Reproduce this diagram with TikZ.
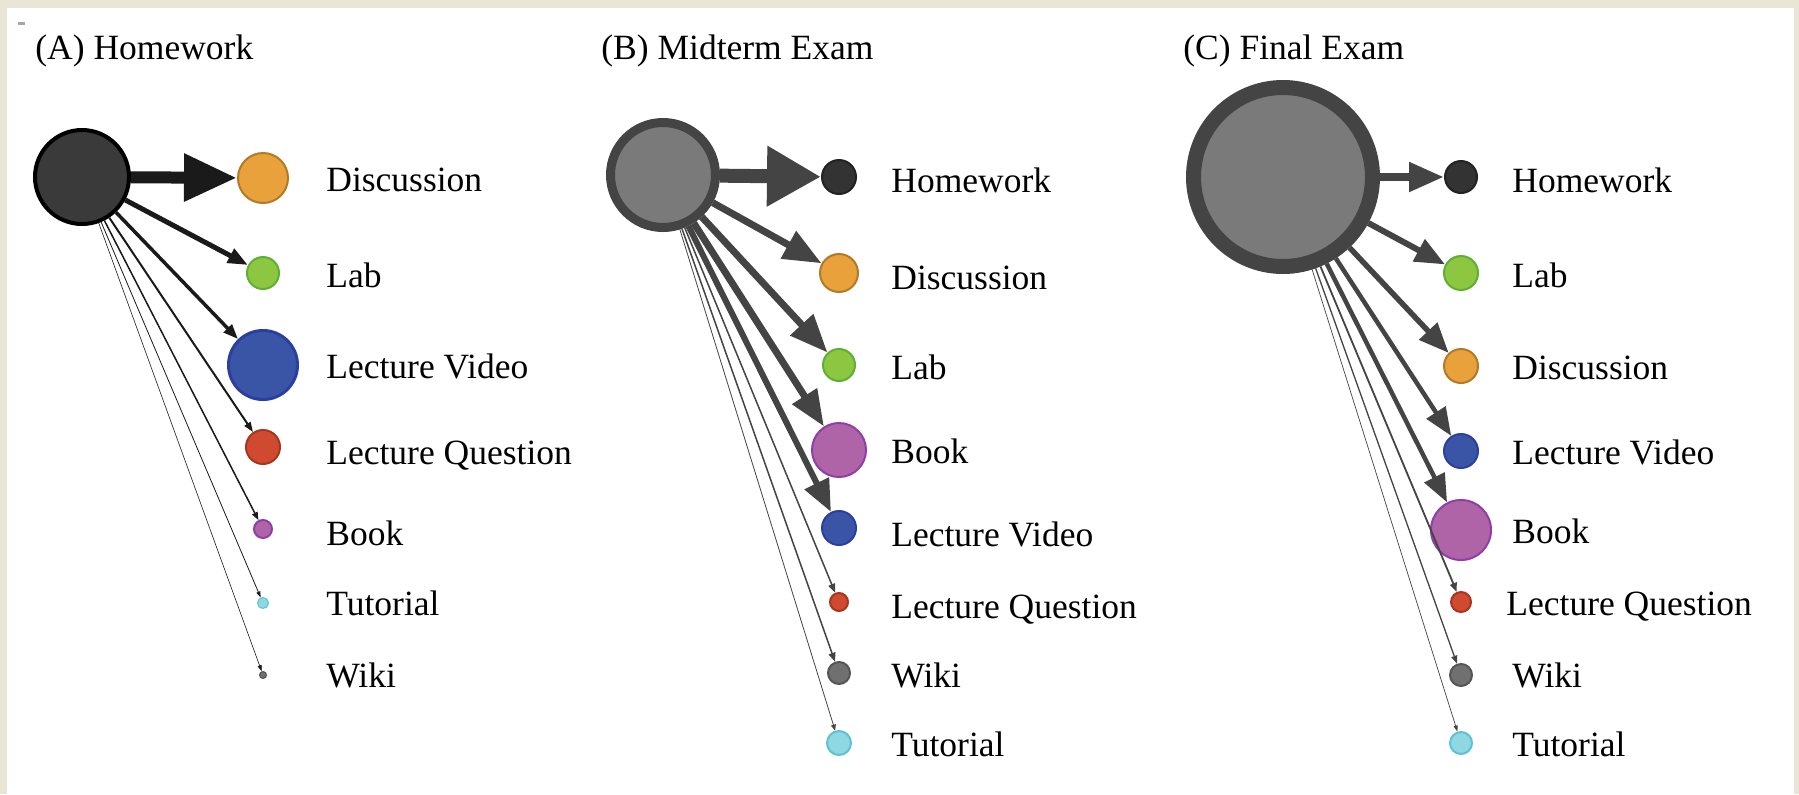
\documentclass[tikz,border=0pt]{standalone}
\usepackage{fontspec}
\setmainfont{Liberation Serif}
\usepackage{xcolor}
\usepackage{tikz}
\usetikzlibrary{arrows.meta}
\definecolor{pagebg}{HTML}{E9E6D6}
\definecolor{discfill}{HTML}{E9A23B}
\definecolor{discstroke}{HTML}{B07A26}
\definecolor{labfill}{HTML}{8DC641}
\definecolor{labstroke}{HTML}{5DB033}
\definecolor{videofill}{HTML}{3A55A6}
\definecolor{videostroke}{HTML}{2B3FA0}
\definecolor{questionfill}{HTML}{CF4A2E}
\definecolor{questionstroke}{HTML}{A8361E}
\definecolor{bookfill}{HTML}{B064A8}
\definecolor{bookstroke}{HTML}{8E3FA5}
\definecolor{tutorialfill}{HTML}{8ED8E4}
\definecolor{tutorialstroke}{HTML}{5EC2D2}
\definecolor{wikifill}{HTML}{707070}
\definecolor{wikistroke}{HTML}{555555}
\definecolor{homeworkfill}{HTML}{333333}
\definecolor{homeworkstroke}{HTML}{222222}
\definecolor{sourcedark}{HTML}{3A3A3A}
\definecolor{sourcegray}{HTML}{7A7A7A}
\definecolor{edgedark}{HTML}{1A1A1A}
\definecolor{edgegray}{HTML}{444444}

\begin{document}
\begin{tikzpicture}[
  x=0.5pt,
  y=-0.5pt,
  dot/.style={
    circle,
    inner sep=0pt,
    line width=1pt
  },
  disc/.style={dot, fill=discfill, draw=discstroke},
  lab/.style={dot, fill=labfill, draw=labstroke},
  video/.style={dot, fill=videofill, draw=videostroke},
  question/.style={dot, fill=questionfill, draw=questionstroke},
  book/.style={dot, fill=bookfill, draw=bookstroke},
  tutorial/.style={dot, fill=tutorialfill, draw=tutorialstroke},
  wiki/.style={dot, fill=wikifill, draw=wikistroke},
  homework/.style={dot, fill=homeworkfill, draw=homeworkstroke},
  sourceA/.style={dot, fill=sourcedark, draw=black},
  sourceBC/.style={dot, fill=sourcegray, draw=edgegray},
  tag/.style={
    anchor=west,
    inner sep=0pt,
    font=\fontsize{17.75}{20}\selectfont
  },
  panel/.style={
    anchor=west,
    inner sep=0pt,
    font=\fontsize{17.75}{20}\selectfont
  },
  link/.style n args={3}{
    draw=edgegray,
    line width=#1pt,
    -{Triangle[length=#2pt,width=#3pt]}
  },
  dark/.style={draw=edgedark}
]

% page and panel
\fill[pagebg] (0,0) rectangle (1799,794);
\fill[white] (7,8) rectangle (1794,794);
\fill[gray!70] (18,22) rectangle (25,25);

\node[panel] (titleA) at (35,51) {(A) Homework};
\node[panel] (titleB) at (601,51) {(B) Midterm Exam};
\node[panel] (titleC) at (1183,51) {(C) Final Exam};

% (A) Homework
\node[sourceA, minimum size=47pt, line width=2pt] (hw) at (82,177) {};
\node[disc, minimum size=25pt] (hwdisc) at (263,178) {};
\node[lab, minimum size=16pt] (hwlab) at (263,273) {};
\node[video, minimum size=34.5pt, line width=1.5pt] (hwvideo) at (263,365) {};
\node[question, minimum size=17pt] (hwquestion) at (263,447) {};
\node[book, minimum size=9pt] (hwbook) at (263,529) {};
\node[tutorial, minimum size=5.5pt, line width=0.5pt] (hwtutorial) at (263,603) {};
\node[wiki, minimum size=3.5pt, line width=0.5pt] (hwwiki) at (263,675) {};

\node[tag] (hwdisc-t) at (326,180) {Discussion};
\node[tag] (hwlab-t) at (326,275) {Lab};
\node[tag] (hwvideo-t) at (326,366) {Lecture Video};
\node[tag] (hwquestion-t) at (326,456) {Lecture Question};
\node[tag] (hwbook-t) at (326,533) {Book};
\node[tag] (hwtutorial-t) at (326,603) {Tutorial};
\node[tag] (hwwiki-t) at (326,675) {Wiki};

\draw[link={6}{26.5}{22.5}, dark] (hw) -- (hwdisc);
\draw[link={2.5}{10}{7.5}, dark] (hw) -- (hwlab);
\draw[link={1.75}{7.5}{5.5}, dark] (hw) -- (hwvideo);
\draw[link={1}{5}{3.5}, dark] (hw) -- (hwquestion);
\draw[link={0.75}{4}{3}, dark] (hw) -- (hwbook);
\draw[link={0.4}{3}{2}, dark] (hw) -- (hwtutorial);
\draw[link={0.3}{3}{2}, dark] (hw) -- (hwwiki);

% (B) Midterm Exam
\node[sourceBC, minimum size=52.5pt, line width=4.5pt] (mid) at (663,175) {};
\node[homework, minimum size=17pt] (midhw) at (839,177) {};
\node[disc, minimum size=19pt] (middisc) at (839,273) {};
\node[lab, minimum size=16pt] (midlab) at (839,365) {};
\node[book, minimum size=27pt] (midbook) at (839,450) {};
\node[video, minimum size=17pt] (midvideo) at (839,528) {};
\node[question, minimum size=9pt] (midquestion) at (839,602) {};
\node[wiki, minimum size=11pt] (midwiki) at (839,673) {};
\node[tutorial, minimum size=12pt] (midtutorial) at (839,743) {};

\node[tag] (midhw-t) at (891,180) {Homework};
\node[tag] (middisc-t) at (891,278) {Discussion};
\node[tag] (midlab-t) at (891,367) {Lab};
\node[tag] (midbook-t) at (891,451) {Book};
\node[tag] (midvideo-t) at (891,534) {Lecture Video};
\node[tag] (midquestion-t) at (891,610) {Lecture Question};
\node[tag] (midwiki-t) at (891,675) {Wiki};
\node[tag] (midtutorial-t) at (891,744) {Tutorial};

\draw[link={7}{27}{28.5}] (mid) -- (midhw);
\draw[link={3.5}{19}{15}] (mid) -- (middisc);
\draw[link={3.5}{19}{15}] (mid) -- (midlab);
\draw[link={3.5}{18}{14}] (mid) -- (midbook);
\draw[link={3}{16}{13}] (mid) -- (midvideo);
\draw[link={0.75}{4.5}{3.5}] (mid) -- (midquestion);
\draw[link={0.75}{4.5}{3.5}] (mid) -- (midwiki);
\draw[link={0.4}{3}{2.5}] (mid) -- (midtutorial);

% (C) Final Exam
\node[sourceBC, minimum size=89.5pt, line width=7.5pt] (fin) at (1283,177) {};
\node[homework, minimum size=16pt] (finhw) at (1461,177) {};
\node[lab, minimum size=17pt] (finlab) at (1461,273) {};
\node[disc, minimum size=17pt] (findisc) at (1461,366) {};
\node[video, minimum size=17pt] (finvideo) at (1461,451) {};
\node[book, minimum size=30pt] (finbook) at (1461,530) {};
\node[question, minimum size=10pt] (finquestion) at (1461,602) {};
\node[wiki, minimum size=11pt] (finwiki) at (1461,675) {};
\node[tutorial, minimum size=11pt] (fintutorial) at (1461,743) {};

\node[tag] (finhw-t) at (1512,180) {Homework};
\node[tag] (finlab-t) at (1512,275) {Lab};
\node[tag] (findisc-t) at (1512,368) {Discussion};
\node[tag] (finvideo-t) at (1512,452) {Lecture Video};
\node[tag] (finbook-t) at (1512,531) {Book};
\node[tag] (finquestion-t) at (1506,607) {Lecture Question};
\node[tag] (finwiki-t) at (1512,675) {Wiki};
\node[tag] (fintutorial-t) at (1512,744) {Tutorial};

\draw[link={4}{17.5}{14}] (fin) -- (finhw);
\draw[link={3}{15}{12}] (fin) -- (finlab);
\draw[link={2.75}{15}{12}] (fin) -- (findisc);
\draw[link={2.25}{14}{11}] (fin) -- (finvideo);
\draw[link={2.25}{14}{11}] (fin) -- (finbook);
\draw[link={0.9}{4.5}{3.5}] (fin) -- (finquestion);
\draw[link={0.65}{4}{3}] (fin) -- (finwiki);
\draw[link={0.35}{3}{2}] (fin) -- (fintutorial);

\end{tikzpicture}
\end{document}
